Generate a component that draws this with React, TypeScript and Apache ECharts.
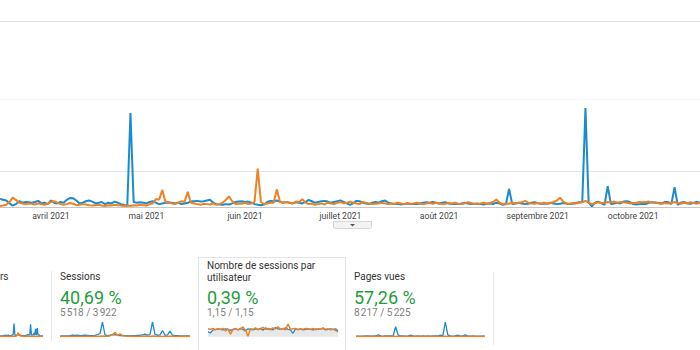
import React, { useEffect, useRef } from "react";
import * as echarts from "echarts";

const startDate = "2021-03-16";
const monthNames = ["janvier", "février", "mars", "avril", "mai", "juin", "juillet", "août", "septembre", "octobre", "novembre", "décembre"];
const gridValue = 100;
const topValue = 300;

const blueSeries = [
  22, 20, 18, 10, 4, 8, 16, 12, 14, 13,
  12, 14, 17, 10, 12, 8, 18, 12, 10, 14,
  12, 20, 25, 24, 18, 10, 12, 16, 18, 15,
  10, 12, 14, 8, 12, 10, 15, 12, 8, 6,
  3, 261, 14, 12, 13, 12, 10, 14, 16, 12,
  8, 10, 12, 12, 12, 10, 12, 8, 10, 12,
  15, 16, 17, 15, 16, 18, 20, 12, 8, 7,
  6, 8, 7, 10, 14, 15, 16, 14, 15, 12,
  8, 6, 5, 7, 14, 17, 16, 18, 15, 12,
  14, 12, 10, 13, 12, 10, 14, 20, 16, 12,
  14, 16, 17, 15, 12, 14, 16, 18, 14, 10,
  6, 10, 17, 16, 12, 10, 8, 12, 14, 12,
  16, 18, 12, 10, 8, 9, 7, 8, 10, 8,
  9, 8, 10, 12, 13, 12, 14, 12, 10, 12,
  13, 10, 8, 9, 8, 10, 12, 10, 8, 9,
  10, 8, 7, 9, 10, 8, 12, 10, 6, 8,
  50, 8, 10, 12, 10, 8, 9, 12, 13, 11,
  8, 10, 9, 12, 10, 8, 9, 11, 10, 8,
  9, 11, 13, 14, 275, 12, 2, 12, 15, 10,
  6, 58, 8, 10, 12, 10, 15, 16, 14, 8,
  7, 8, 9, 8, 12, 13, 12, 11, 10, 14,
  14, 8, 55, 6, 12, 14, 10, 9, 12, 14,
  12,
];

const orangeSeries = [
  3, 4, 6, 14, 26, 20, 12, 10, 8, 10,
  9, 7, 10, 8, 6, 9, 14, 16, 12, 8,
  6, 8, 11, 9, 5, 6, 8, 7, 5, 4,
  5, 6, 4, 3, 5, 4, 6, 5, 4, 3,
  4, 3, 5, 4, 6, 5, 4, 8, 10, 22,
  20, 47, 14, 14, 10, 8, 12, 16, 14, 42,
  12, 10, 8, 6, 9, 8, 7, 10, 6, 8,
  12, 20, 29, 16, 8, 10, 9, 12, 8, 10,
  14, 107, 14, 8, 10, 12, 12, 49, 14, 12,
  14, 12, 10, 15, 13, 22, 12, 8, 10, 6,
  8, 10, 7, 12, 10, 8, 12, 14, 10, 12,
  15, 12, 10, 8, 14, 12, 10, 8, 9, 10,
  12, 10, 8, 10, 9, 12, 10, 8, 11, 9,
  10, 12, 9, 8, 10, 11, 9, 12, 10, 8,
  9, 11, 10, 12, 9, 8, 10, 13, 11, 9,
  8, 10, 12, 9, 11, 14, 21, 12, 8, 10,
  9, 12, 10, 11, 13, 17, 12, 10, 9, 11,
  10, 12, 9, 11, 14, 18, 26, 15, 10, 9,
  11, 10, 12, 13, 17, 12, 8, 10, 13, 11,
  12, 14, 13, 15, 12, 14, 13, 12, 10, 11,
  12, 14, 13, 14, 15, 12, 13, 10, 9, 11,
  10, 12, 14, 11, 9, 12, 10, 13, 11, 9,
  12,
];

const sparkUsersBlue = [
  4, 5, 6, 6, 8, 9, 9, 10, 8, 9,
  10, 9, 8, 7, 9, 12, 18, 90, 12, 8,
  10, 12, 14, 10, 8, 9, 7, 8, 6, 7,
  8, 9, 10, 12, 16, 10, 12, 84, 14, 10,
  12, 25, 10, 53, 12, 58, 10, 15, 6, 6,
  5, 6, 5,
];
const sparkUsersOrange = [
  2, 2, 2, 2, 3, 2, 2, 3, 2, 2,
  2, 3, 2, 2, 3, 2, 3, 4, 3, 3,
  6, 14, 28, 8, 18, 6, 4, 3, 3, 2,
  3, 2, 3, 3, 4, 3, 2, 4, 3, 2,
  3, 2, 3, 2, 3, 3, 2, 2, 3, 2,
  2, 3, 2,
];

const sparkSessionsBlue = [
  4, 5, 5, 6, 8, 10, 9, 10, 8, 9,
  10, 9, 8, 7, 9, 14, 20, 100, 12, 8,
  10, 12, 14, 10, 8, 9, 7, 8, 6, 7,
  8, 9, 10, 12, 18, 10, 14, 100, 16, 10,
  12, 42, 10, 12, 38, 10, 8, 7, 6, 6,
  5, 6, 5,
];
const sparkSessionsOrange = [
  2, 2, 2, 2, 3, 2, 2, 3, 2, 2,
  2, 3, 2, 2, 3, 2, 3, 4, 3, 3,
  6, 14, 30, 8, 20, 6, 4, 3, 3, 2,
  3, 2, 3, 3, 4, 3, 2, 4, 3, 2,
  3, 2, 3, 2, 3, 3, 2, 2, 3, 2,
  2, 3, 2,
];

const sparkRatioBlue = [
  1.10, 1.08, 1.14, 1.15, 1.16, 1.15, 1.14, 1.16, 1.15, 1.13,
  1.15, 1.16, 1.14, 1.17, 1.15, 1.12, 1.16, 1.15, 1.14, 1.16,
  1.15, 1.17, 1.13, 1.18, 1.15, 1.16, 1.14, 1.19, 1.16, 1.15,
  1.16, 1.18, 1.15, 1.14, 1.07, 1.16, 1.15, 1.16, 1.14, 1.15,
  1.16, 1.15, 1.14, 1.16, 1.15, 1.15, 1.17, 1.14, 1.15, 1.16,
  1.15, 1.16, 1.12,
];
const sparkRatioOrange = [
  1.16, 1.15, 1.17, 1.14, 1.16, 1.15, 1.17, 1.12, 1.16, 1.05,
  1.15, 1.17, 1.14, 1.16, 1.20, 1.13, 1.01, 1.16, 1.15, 1.18,
  1.14, 1.16, 1.19, 1.15, 1.17, 1.14, 1.18, 1.16, 1.20, 1.15,
  1.17, 1.14, 1.26, 1.15, 1.16, 1.17, 1.14, 1.16, 1.15, 1.17,
  1.16, 1.15, 1.17, 1.14, 1.16, 1.15, 1.18, 1.15, 1.16, 1.14,
  1.15, 1.13, 1.10,
];

const sparkPagesBlue = [
  3, 3, 4, 4, 5, 5, 4, 5, 6, 12,
  5, 4, 5, 6, 5, 8, 68, 10, 6, 5,
  4, 5, 10, 5, 4, 5, 4, 5, 4, 5,
  4, 5, 6, 5, 10, 6, 100, 12, 5, 4,
  5, 10, 5, 4, 12, 5, 4, 5, 4, 4,
  4, 3, 4,
];
const sparkPagesOrange = [
  2, 2, 2, 3, 2, 2, 3, 2, 2, 3,
  2, 2, 3, 2, 2, 3, 2, 2, 3, 2,
  2, 3, 2, 2, 3, 2, 2, 3, 2, 2,
  3, 2, 2, 3, 2, 2, 3, 2, 2, 3,
  2, 2, 3, 2, 2, 3, 2, 2, 3, 2,
  2, 3, 2,
];

const cardTitles = ["Utilisateurs", "Sessions", "Nombre de sessions par\nutilisateur", "Pages vues"];
const cardPercents = ["", "40,69 %", "0,39 %", "57,26 %"];
const cardValues = ["", "5\u202F518 / 3\u202F922", "1,15 / 1,15", "8\u202F217 / 5\u202F225"];

const BLUE = "#1a8bcf";
const ORANGE = "#ee8121";
const GREEN = "#1f9d3d";
const FONT = "Roboto";

function buildDates(n: number): string[] {
  const out: string[] = [];
  const d = new Date(startDate + "T00:00:00Z");
  for (let i = 0; i < n; i++) {
    out.push(d.toISOString().slice(0, 10));
    d.setUTCDate(d.getUTCDate() + 1);
  }
  return out;
}

export default function App() {
  const ref = useRef<HTMLDivElement>(null);
  useEffect(() => {
    if (!ref.current) return;
    const chart = echarts.init(ref.current, undefined, { renderer: "svg" });
    const dates = buildDates(blueSeries.length);
    const sparkIdx = sparkSessionsBlue.map((_, i) => String(i));

    const sparkGrids = [
      { left: -87, width: 130, top: 322, height: 14.7 },
      { left: 60, width: 130, top: 322, height: 14.7 },
      { left: 208, width: 130, top: 322, height: 14.7 },
      { left: 356, width: 129, top: 322, height: 14.7 },
    ];
    const sparkData = [
      [sparkUsersBlue, sparkUsersOrange],
      [sparkSessionsBlue, sparkSessionsOrange],
      [sparkRatioBlue, sparkRatioOrange],
      [sparkPagesBlue, sparkPagesOrange],
    ];

    const grids: any[] = [{ left: 0, right: 0, top: 99, height: 108 }, ...sparkGrids];
    const xAxes: any[] = [
      {
        type: "category",
        gridIndex: 0,
        data: dates,
        boundaryGap: false,
        axisLine: { lineStyle: { color: "#c6c6c6", width: 1 } },
        axisTick: { show: false },
        axisLabel: {
          interval: (_i: number, v: string) => v.slice(8) === "01",
          hideOverlap: false,
          formatter: (v: string) => monthNames[parseInt(v.slice(5, 7), 10) - 1] + " " + v.slice(0, 4),
          color: "#444",
          fontSize: 8.6,
          fontFamily: FONT,
          margin: 4,
        },
        splitLine: { show: false },
      },
    ];
    const yAxes: any[] = [
      {
        type: "value",
        gridIndex: 0,
        min: 0,
        max: 300,
        interval: 100,
        axisLabel: { show: false },
        axisLine: { show: false },
        axisTick: { show: false },
        splitLine: { show: false },
      },
    ];
    const series: any[] = [
      {
        type: "line",
        xAxisIndex: 0,
        yAxisIndex: 0,
        data: blueSeries,
        symbol: "none",
        lineStyle: { color: BLUE, width: 2 },
        z: 3,
        markLine: {
          silent: true,
          symbol: "none",
          label: { show: false },
          data: [
            { yAxis: gridValue, lineStyle: { color: "#e3e3e3", type: "solid", width: 1 } },
            { yAxis: topValue, lineStyle: { color: "#f4f4f4", type: "solid", width: 1 } },
          ],
          z: 1,
        },
      },
      { type: "line", xAxisIndex: 0, yAxisIndex: 0, data: orangeSeries, symbol: "none", lineStyle: { color: ORANGE, width: 2 }, z: 4 },
    ];

    sparkGrids.forEach((_, k) => {
      const gi = k + 1;
      const isRatio = k === 2;
      xAxes.push({ type: "category", gridIndex: gi, data: sparkIdx, boundaryGap: false, show: false });
      yAxes.push({
        type: "value",
        gridIndex: gi,
        min: isRatio ? 1.0 : 0,
        max: isRatio ? 1.3 : 100,
        show: false,
        splitLine: { show: false },
      });
      series.push({
        type: "line",
        xAxisIndex: gi,
        yAxisIndex: gi,
        data: sparkData[k][0],
        symbol: "none",
        lineStyle: { color: BLUE, width: 1.3 },
        areaStyle: isRatio ? { color: "#e8e8e8", opacity: 1 } : undefined,
        z: 3,
      });
      series.push({
        type: "line",
        xAxisIndex: gi,
        yAxisIndex: gi,
        data: sparkData[k][1],
        symbol: "none",
        lineStyle: { color: ORANGE, width: 1.5 },
        z: 4,
      });
    });

    const cardX = [8.5, 60, 207, 354];
    const graphics: any[] = [
      { type: "line", shape: { x1: 0, y1: 21.5, x2: 700, y2: 21.5 }, style: { stroke: "#e2e2e2", lineWidth: 1 } },
      { type: "rect", shape: { x: 333.5, y: 221.5, width: 38, height: 7, r: [0, 0, 2, 2] }, style: { fill: "#f3f3f3", stroke: "#d6d6d6", lineWidth: 1 } },
      { type: "polygon", shape: { points: [[350, 224], [355, 224], [352.5, 226.5]] }, style: { fill: "#555" } },
      { type: "line", shape: { x1: 51.5, y1: 271, x2: 51.5, y2: 341 }, style: { stroke: "#e6e6e6", lineWidth: 1 } },
      { type: "line", shape: { x1: 493.5, y1: 272, x2: 493.5, y2: 345 }, style: { stroke: "#e6e6e6", lineWidth: 1 } },
      { type: "rect", shape: { x: 198.5, y: 257.5, width: 147, height: 96 }, style: { fill: "none", stroke: "#e4e4e4", lineWidth: 1 } },
    ];
    cardTitles.forEach((t, k) => {
      const twoLine = t.indexOf("\n") >= 0;
      graphics.push({
        type: "text",
        x: cardX[k],
        y: twoLine ? 271 : 276.5,
        style: {
          text: t,
          fill: "#333",
          font: `10px ${FONT}`,
          lineHeight: 12,
          textAlign: k === 0 ? "right" : "left",
          textVerticalAlign: "middle",
        },
      });
      if (cardPercents[k]) {
        graphics.push({
          type: "text",
          x: cardX[k],
          y: 297.5,
          style: { text: cardPercents[k], fill: GREEN, font: `18px ${FONT}`, textAlign: "left", textVerticalAlign: "middle" },
        });
        graphics.push({
          type: "text",
          x: cardX[k],
          y: 312.5,
          style: { text: cardValues[k], fill: "#808080", font: `10px ${FONT}`, textAlign: "left", textVerticalAlign: "middle" },
        });
      }
    });

    chart.setOption({
      animation: false,
      backgroundColor: "#ffffff",
      grid: grids,
      xAxis: xAxes,
      yAxis: yAxes,
      series,
      graphic: { elements: graphics },
    });
    return () => chart.dispose();
  }, []);
  return <div ref={ref} style={{ position: "absolute", left: 0, top: 0, width: 700, height: 350 }} />;
}
